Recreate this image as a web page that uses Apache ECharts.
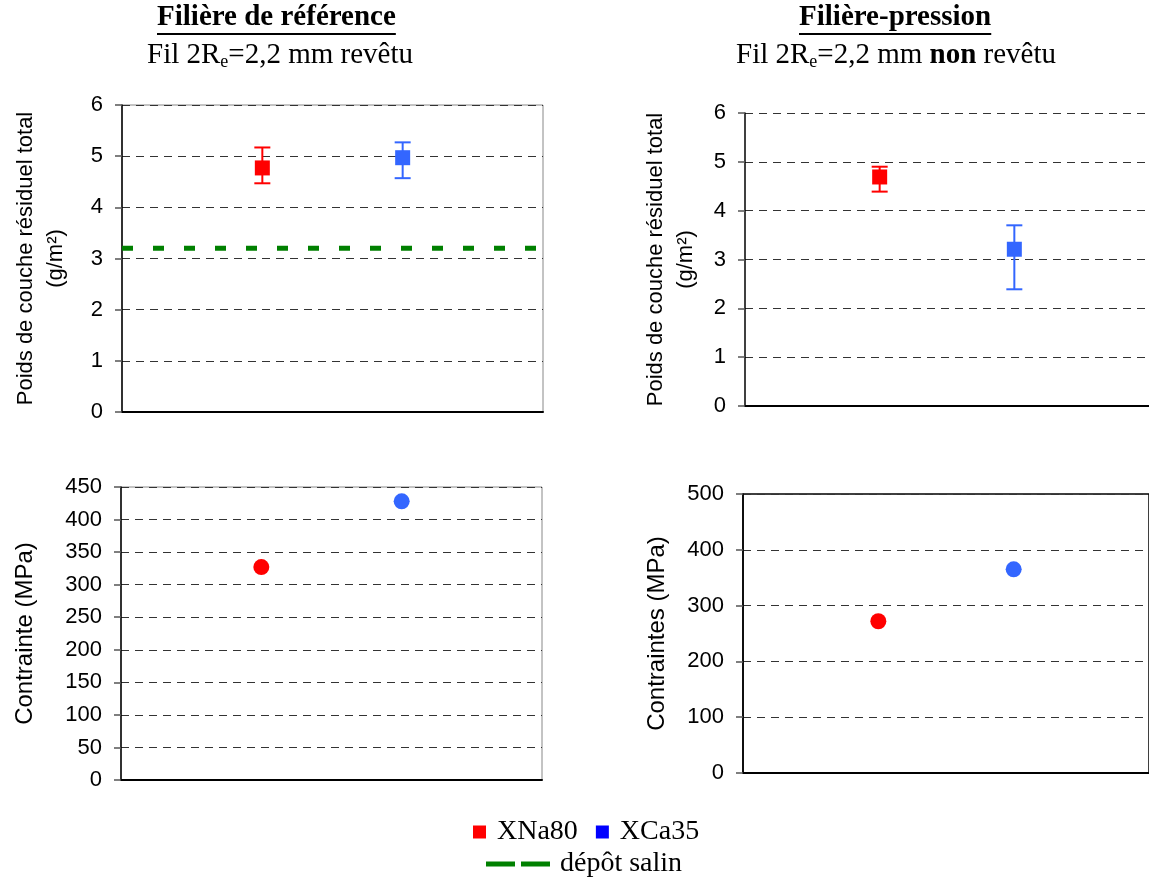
<!DOCTYPE html>
<html><head><meta charset="utf-8">
<script src="https://cdn.jsdelivr.net/npm/echarts@6/dist/echarts.min.js"></script>
<style>html,body{margin:0;padding:0;background:#fff}#c{width:1149px;height:878px}</style>
</head><body><div id="c"></div>
<script>
// ---- data ----
const categories = ['XNa80', 'XCa35'];
const categoryX = [1, 2];
const refMass = [4.77, 4.97];
const refMassLow = [4.47, 4.57];
const refMassHigh = [5.17, 5.27];
const presMass = [4.69, 3.21];
const presMassLow = [4.39, 2.39];
const presMassHigh = [4.90, 3.70];
const refStress = [327, 428];
const presStress = [272, 365];
const saltDeposit = 3.2;
const saltName = 'dépôt salin';
const massTicks = [0, 1, 2, 3, 4, 5, 6];
const refStressTicks = [0, 50, 100, 150, 200, 250, 300, 350, 400, 450];
const presStressTicks = [0, 100, 200, 300, 400, 500];

const markerColors = ['#FF0000', '#3366FF'];
const legendColors = ['#FF0000', '#0000FF'];
const SANS = 'Liberation Sans';
const SERIF = 'Liberation Serif';

const chart = echarts.init(document.getElementById('c'));

function measure(text, font) {
  const ctx = document.createElement('canvas').getContext('2d');
  ctx.font = font;
  return ctx.measureText(text).width;
}

function yAxis(gi, ticks, name, gap, nameSize, lh) {
  return {
    type: 'value', gridIndex: gi,
    min: ticks[0], max: ticks[ticks.length - 1], interval: ticks[1] - ticks[0],
    axisLine: { show: true, lineStyle: { color: '#000', width: 1.5 } },
    axisTick: { show: true, length: 7, inside: false, lineStyle: { color: '#555', width: 1.5 } },
    axisLabel: { color: '#000', fontFamily: SANS, fontSize: 22, margin: 19 },
    splitLine: { show: true, lineStyle: { color: '#333', type: [8, 6], width: 1 } },
    name: name, nameLocation: 'middle', nameRotate: 90, nameGap: gap,
    nameTextStyle: { color: '#000', fontFamily: SANS, fontSize: nameSize, lineHeight: lh }
  };
}
function xAxis(gi) {
  return {
    type: 'value', gridIndex: gi, min: 0, max: 3,
    axisLine: { show: true, onZero: false, lineStyle: { color: '#000', width: 2 } },
    axisTick: { show: false }, axisLabel: { show: false }, splitLine: { show: false }
  };
}
function errorSeries(gi, lows, highs) {
  return categories.map((c, i) => ({
    type: 'custom', name: c, xAxisIndex: gi, yAxisIndex: gi, z: 2,
    data: [[categoryX[i], lows[i], highs[i]]],
    renderItem: function (params, api) {
      const x = api.value(0);
      const lo = api.coord([x, api.value(1)]);
      const hi = api.coord([x, api.value(2)]);
      const hw = 8;
      const st = { stroke: markerColors[i], lineWidth: 2 };
      return { type: 'group', children: [
        { type: 'line', shape: { x1: lo[0], y1: lo[1], x2: hi[0], y2: hi[1] }, style: st },
        { type: 'line', shape: { x1: lo[0] - hw, y1: lo[1], x2: lo[0] + hw, y2: lo[1] }, style: st },
        { type: 'line', shape: { x1: hi[0] - hw, y1: hi[1], x2: hi[0] + hw, y2: hi[1] }, style: st }
      ]};
    }
  }));
}
function pointSeries(gi, vals, symbol, size) {
  return categories.map((c, i) => ({
    type: 'scatter', name: c, xAxisIndex: gi, yAxisIndex: gi, z: 5,
    symbol: symbol, symbolSize: size,
    itemStyle: { color: markerColors[i], opacity: 1 },
    data: [[categoryX[i], vals[i]]]
  }));
}

const titleSize = 29, subSize = 29;
const titles = [
  { main: 'Filière de référence', sub: 'Fil 2R{s|e}=2,2 mm revêtu', x: 157, sx: 147 },
  { main: 'Filière-pression', sub: 'Fil 2R{s|e}=2,2 mm {b|non} revêtu', x: 799, sx: 736 }
];
const titleComps = [], underline = [];
titles.forEach(t => {
  titleComps.push({ text: t.main, left: t.x, top: 3, padding: 0,
    textStyle: { fontFamily: SERIF, fontSize: titleSize, fontWeight: 'bold', color: '#000' } });
  titleComps.push({ text: t.sub, left: t.sx, top: 40, padding: 0,
    textStyle: { fontFamily: SERIF, fontSize: subSize, fontWeight: 'normal', color: '#000', lineHeight: 31,
      rich: { s: { fontFamily: SERIF, fontSize: 18, verticalAlign: 'bottom', lineHeight: 26, color: '#000' },
              b: { fontFamily: SERIF, fontSize: subSize, fontWeight: 'bold', color: '#000' } } } });
  const w = measure(t.main, 'bold ' + titleSize + 'px "' + SERIF + '"');
  underline.push({ type: 'line', shape: { x1: t.x, y1: 34, x2: t.x + w, y2: 34 },
    style: { stroke: '#000', lineWidth: 2 } });
});

const option = {
  backgroundColor: '#fff',
  animation: false,
  title: titleComps,
  graphic: underline,
  legend: [
    { data: categories.map((c, i) => ({ name: c, itemStyle: { color: legendColors[i] } })),
      left: 468, top: 813, icon: 'rect', itemWidth: 13, itemHeight: 13, itemGap: 18,
      textStyle: { fontFamily: SERIF, fontSize: 28, color: '#000', padding: [0, 0, 0, 6] } },
    { data: [{ name: saltName, icon: 'path://M0,0H29V5H0Z M35,0H64V5H35Z', itemStyle: { color: '#008000' } }],
      left: 481, top: 845, itemWidth: 64, itemHeight: 5,
      textStyle: { fontFamily: SERIF, fontSize: 28, color: '#000', padding: [0, 0, 0, 5] } }
  ],
  grid: [
    { left: 122, top: 105, width: 421, height: 307, show: true, borderColor: '#888', borderWidth: 1, backgroundColor: '#fff' },
    { left: 745, top: 113, width: 408, height: 293, show: false },
    { left: 121, top: 487, width: 421, height: 293, show: true, borderColor: '#888', borderWidth: 1, backgroundColor: '#fff' },
    { left: 743, top: 494, width: 410, height: 279, show: true, borderColor: '#000', borderWidth: 1.5, backgroundColor: '#fff' }
  ],
  xAxis: [xAxis(0), xAxis(1), xAxis(2), xAxis(3)],
  yAxis: [
    yAxis(0, massTicks, 'Poids de couche résiduel total\n(g/m²)', 51, 22, 30),
    yAxis(1, massTicks, 'Poids de couche résiduel total\n(g/m²)', 44, 22, 30),
    yAxis(2, refStressTicks, 'Contrainte (MPa)', 83, 24, 26),
    yAxis(3, presStressTicks, 'Contraintes (MPa)', 73, 24, 26)
  ],
  series: [
    { type: 'line', name: saltName, xAxisIndex: 0, yAxisIndex: 0, z: 3,
      symbol: 'none', silent: true,
      lineStyle: { color: '#008000', width: 5, type: [11, 20] },
      itemStyle: { color: '#008000' },
      data: [[0, saltDeposit], [3, saltDeposit]] },
    ...errorSeries(0, refMassLow, refMassHigh),
    ...pointSeries(0, refMass, 'rect', 15),
    ...errorSeries(1, presMassLow, presMassHigh),
    ...pointSeries(1, presMass, 'rect', 15),
    ...pointSeries(2, refStress, 'circle', 16),
    ...pointSeries(3, presStress, 'circle', 16)
  ]
};
chart.setOption(option);
</script></body></html>
